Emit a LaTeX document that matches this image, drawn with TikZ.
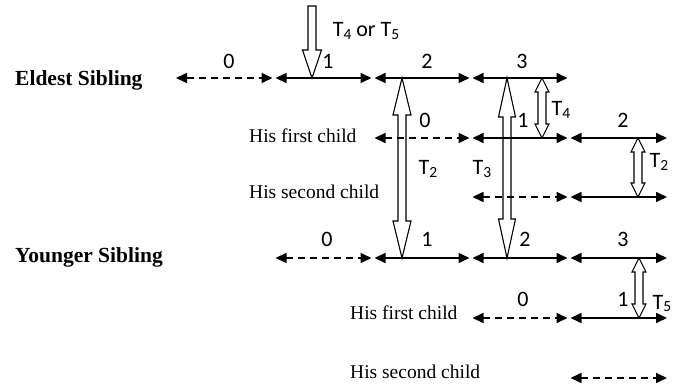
\documentclass[tikz,border=0pt]{standalone}
\usepackage{fontspec}
\setmainfont{Liberation Serif}
\newfontfamily\calib{Carlito}
\usetikzlibrary{arrows.meta}
\newcommand{\tsb}[1]{\raisebox{-0.25ex}{\fontsize{15.5}{15.5}\selectfont #1}}
\tikzset{
  seg/.style={line width=1.6pt, {Triangle[length=11pt,width=10pt]}-{Triangle[length=11pt,width=10pt]}, shorten <=1.5pt, shorten >=1.5pt},
  dseg/.style={seg, dash pattern=on 7pt off 5pt},
  num/.style={font=\calib\fontsize{22}{22}\selectfont, anchor=base, inner sep=0pt},
  rowlab/.style={font=\bfseries\fontsize{21.5}{21.5}\selectfont, anchor=base west, inner sep=0pt},
  childlab/.style={font=\fontsize{19.5}{19.5}\selectfont, anchor=base west, inner sep=0pt},
  hollow/.style={draw=black, line width=1.1pt, fill=white, line join=miter}
}
% double hollow arrow: x, ytop, ybot, headlen, halfhead, halfshaft
\newcommand{\dblarrow}[6]{%
  \draw[hollow] (#1,#2) -- ({#1+#5},{#2+#4}) -- ({#1+#6},{#2+#4}) -- ({#1+#6},{#3-#4})
   -- ({#1+#5},{#3-#4}) -- (#1,#3) -- ({#1-#5},{#3-#4}) -- ({#1-#6},{#3-#4})
   -- ({#1-#6},{#2+#4}) -- ({#1-#5},{#2+#4}) -- cycle;}
\begin{document}
\begin{tikzpicture}[x=1pt,y=-1pt]
\useasboundingbox (0,0) rectangle (680,390);
% hollow arrows
\dblarrow{402}{78}{258}{37}{9}{4}
\dblarrow{507}{78}{258}{39}{8.5}{4}
\dblarrow{542}{78}{138}{14}{7}{4}
\dblarrow{638}{138}{197}{14}{7}{4}
\dblarrow{639}{258}{318}{14}{7}{4}
\draw[hollow] (308,6) -- (316,6) -- (316,50) -- (321.5,50) -- (312,78) -- (302.5,50) -- (308,50) -- cycle;
% boundary coordinates per row
\foreach \r/\y in {E/78, F/138, G/197, Y/258, Z/318, W/378}{
  \foreach \i/\x in {0/174.5, 1/274, 2/373, 3/471, 4/569, 5/668.5}{
    \coordinate (\r\i) at (\x,\y);
  }
}
% Eldest sibling
\draw[dseg] (E0) -- (E1);
\draw[seg] (E1) -- (E2);
\draw[seg] (E2) -- (E3);
\draw[seg] (E3) -- (E4);
% his first child
\draw[dseg] (F2) -- (F3);
\draw[seg] (F3) -- (F4);
\draw[seg] (F4) -- (F5);
% his second child
\draw[dseg] (G3) -- (G4);
\draw[seg] (G4) -- (G5);
% Younger sibling
\draw[dseg] (Y1) -- (Y2);
\draw[seg] (Y2) -- (Y3);
\draw[seg] (Y3) -- (Y4);
\draw[seg] (Y4) -- (Y5);
% his first child
\draw[dseg] (Z3) -- (Z4);
\draw[seg] (Z4) -- (Z5);
% his second child
\draw[dseg] (W4) -- (W5);
% row labels
\node[rowlab] (le) at (15,86) {Eldest Sibling};
\node[childlab] (lef) at (249,143) {His first child};
\node[childlab] (les) at (249,199) {His second child};
\node[rowlab] (ly) at (15,262) {Younger Sibling};
\node[childlab] (lyf) at (350,319) {His first child};
\node[childlab] (lys) at (350,378) {His second child};
% numbers
\node[num] (e0) at (229,69) {0};
\node[num] (e1) at (328,69) {1};
\node[num] (e2) at (427,69) {2};
\node[num] (e3) at (522,69) {3};
\node[num] (f0) at (425,128) {0};
\node[num] (f1) at (523,128) {1};
\node[num] (f2) at (623,128) {2};
\node[num] (y0) at (327,247) {0};
\node[num] (y1) at (427,247) {1};
\node[num] (y2) at (525,247) {2};
\node[num] (y3) at (623,247) {3};
\node[num] (z0) at (523,306) {0};
\node[num] (z1) at (623,306) {1};
% T labels
\node[num] (t45) at (366,37) {T\tsb{4} or T\tsb{5}};
\node[num] (t2a) at (428,175) {T\tsb{2}};
\node[num] (t3) at (482,175) {T\tsb{3}};
\node[num] (t4) at (561,116) {T\tsb{4}};
\node[num] (t2b) at (659,168) {T\tsb{2}};
\node[num] (t5) at (662,309) {T\tsb{5}};
\end{tikzpicture}
\end{document}
